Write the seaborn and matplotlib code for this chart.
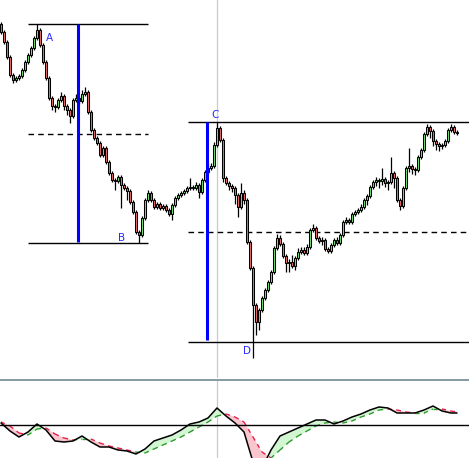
import numpy as np
import seaborn as sns
import matplotlib.pyplot as plt
from matplotlib.collections import LineCollection

# price bars (one per session)
opens = [376, 368, 358, 343, 325, 320, 322, 324, 330, 338,
         345, 352, 362, 370, 355, 338, 322, 302, 294, 293,
         300, 304, 294, 290, 284, 300, 302, 299, 306, 308,
         288, 270, 262, 257, 245, 252, 238, 227, 220, 219,
         223, 215, 212, 209, 198, 188, 168, 165, 182, 200,
         207, 200, 193, 196, 192, 194, 190, 186, 195, 202,
         205, 207, 209, 212, 213, 212, 215, 208, 220, 228,
         232, 234, 255, 272, 260, 222, 217, 214, 212, 205,
         193, 207, 200, 158, 132, 95, 78, 90, 102, 110,
         118, 128, 152, 162, 156, 144, 137, 138, 134, 142,
         148, 150, 147, 153, 170, 172, 162, 159, 160, 151,
         149, 155, 160, 157, 165, 178, 180, 178, 186, 188,
         190, 193, 200, 204, 213, 218, 220, 219, 221, 217,
         218, 227, 222, 200, 194, 212, 232, 234, 231, 230,
         243, 250, 266, 273, 269, 259, 256, 254, 255, 259,
         270, 273, 268]
closes = [368, 358, 343, 325, 320, 322, 324, 330, 338, 345,
          352, 362, 370, 355, 338, 322, 302, 294, 293, 300,
          304, 294, 290, 284, 300, 302, 299, 306, 308, 288,
          270, 262, 257, 245, 252, 238, 227, 220, 219, 223,
          215, 212, 209, 198, 188, 168, 165, 182, 200, 207,
          200, 193, 196, 192, 194, 190, 186, 195, 202, 205,
          207, 209, 212, 213, 212, 215, 208, 220, 228, 232,
          234, 255, 272, 260, 222, 217, 214, 212, 205, 193,
          207, 200, 158, 132, 95, 78, 90, 102, 110, 118,
          128, 152, 162, 156, 144, 137, 138, 134, 142, 148,
          150, 147, 153, 170, 172, 162, 159, 160, 151, 149,
          155, 160, 157, 165, 178, 180, 178, 186, 188, 190,
          193, 200, 204, 213, 218, 220, 219, 221, 217, 218,
          227, 222, 200, 194, 212, 232, 234, 231, 230, 243,
          250, 266, 273, 269, 259, 256, 254, 255, 259, 270,
          273, 268, 267]
highs = [378, 370, 360, 345, 327, 324, 326, 332, 340, 347,
         354, 364, 376, 372, 357, 340, 324, 304, 296, 302,
         308, 306, 296, 292, 302, 306, 304, 310, 313, 310,
         290, 272, 264, 259, 254, 254, 240, 229, 222, 225,
         225, 217, 214, 211, 200, 190, 170, 184, 202, 210,
         209, 202, 198, 198, 196, 196, 192, 197, 204, 207,
         209, 211, 214, 222, 215, 218, 217, 222, 230, 236,
         237, 258, 278, 274, 262, 224, 219, 216, 214, 207,
         217, 210, 202, 160, 134, 97, 92, 104, 112, 120,
         130, 154, 166, 165, 158, 146, 141, 145, 144, 152,
         153, 153, 156, 172, 176, 174, 164, 163, 162, 153,
         157, 162, 163, 167, 180, 183, 182, 188, 190, 192,
         196, 202, 206, 215, 220, 223, 222, 232, 223, 220,
         243, 229, 224, 202, 214, 234, 252, 236, 233, 245,
         252, 268, 276, 275, 271, 261, 258, 257, 261, 272,
         276, 275, 270]
lows = [366, 356, 341, 323, 317, 318, 320, 322, 328, 336,
        343, 350, 360, 353, 336, 320, 300, 290, 288, 291,
        298, 290, 285, 277, 282, 298, 296, 297, 304, 286,
        268, 260, 255, 243, 243, 236, 225, 218, 210, 217,
        192, 210, 200, 196, 186, 166, 157, 163, 180, 198,
        198, 191, 191, 190, 190, 188, 184, 180, 193, 200,
        203, 205, 207, 210, 210, 210, 202, 206, 218, 226,
        230, 232, 253, 258, 218, 215, 210, 208, 196, 183,
        191, 196, 156, 130, 42, 65, 70, 88, 100, 108,
        116, 126, 150, 154, 142, 128, 128, 132, 130, 140,
        146, 145, 145, 151, 168, 160, 157, 155, 149, 147,
        147, 153, 155, 155, 163, 176, 176, 176, 184, 186,
        188, 191, 195, 202, 211, 214, 212, 215, 213, 210,
        216, 212, 198, 190, 192, 210, 228, 226, 225, 228,
        241, 248, 264, 262, 254, 250, 249, 251, 253, 257,
        268, 266, 265]

# oscillator, sampled every third bar
osc_bars = [0, 3, 6, 9, 12, 15, 18, 21, 24, 27, 30, 33, 36, 39, 42, 45, 48,
            51, 54, 57, 60, 63, 66, 69, 72, 75, 78, 81, 84, 87, 90, 93, 96,
            99, 102, 105, 108, 111, 114, 117, 120, 123, 126, 129, 132, 135,
            138, 141, 144, 147, 150, 152]
osc_main = [2, -6, -12, -7, 1, -5, -16, -17, -16, -11, -17, -22, -22, -25, -26,
            -29, -24, -16, -13, -10, -5, 1, 3, 7, 17, 9, 2, -7, -37, -43, -25,
            -11, -7, -3, 1, 5, 5, 1, 4, 8, 11, 15, 18, 17, 12, 12, 12, 15, 19,
            14, 12, 12]
osc_signal = [3, -1, -8, -10, -4, -3, -9, -13, -15, -14, -14, -18, -21, -23,
              -25, -27, -28, -24, -20, -16, -12, -7, -2, 3, 9, 11, 8, 3, -12,
              -27, -33, -25, -17, -11, -6, -1, 2, 3, 2, 4, 8, 11, 15, 16, 15,
              13, 12, 12, 16, 16, 14, 13]

# swing levels: A/B and C/D
ab_levels = (376, 157)
ab_span = (9, 49)
ab_marker = 25.7
cd_levels = (278, 58)
cd_start = 62.3
cd_marker = 68.7
crosshair_bar = 72
labels = {'A': (16, 362), 'B': (40.3, 162), 'C': (71.3, 285), 'D': (82, 49)}

sns.set_theme(style='white')
plt.rcParams['font.family'] = ['DejaVu Sans']

fig = plt.figure(figsize=(4.69, 4.58), dpi=100)
ax = fig.add_axes([0, 80 / 458, 1, 378 / 458])
ax2 = fig.add_axes([0, 0, 1, 78 / 458])

o = np.array(opens)
c = np.array(closes)
bars = np.arange(len(c))
up = c >= o
body_colors = np.where(up, '#72e272', '#ea6a68')

ax.vlines(bars, lows, highs, color='black', lw=0.9, zorder=2)
ax.bar(bars, np.maximum(np.abs(c - o), 0.8), bottom=np.minimum(o, c), width=0.92,
       color=body_colors, edgecolor='black', linewidth=0.75, zorder=3)

xmax = 156
# A/B box
ax.hlines(list(ab_levels), *ab_span, color='black', lw=1.0, zorder=1)
ax.hlines(sum(ab_levels) / 2, *ab_span, color='black', lw=1.0,
          linestyles=(0, (4, 3)), zorder=1)
ax.vlines(ab_marker, ab_levels[1] + 1, ab_levels[0], color='#0000ff', lw=2.2, zorder=4)
# C/D box
ax.hlines(list(cd_levels), cd_start, xmax, color='black', lw=1.0, zorder=1)
ax.hlines(sum(cd_levels) / 2, cd_start, xmax, color='black', lw=1.0,
          linestyles=(0, (4, 3)), zorder=1)
ax.vlines(cd_marker, cd_levels[1] + 2, cd_levels[0], color='#0000ff', lw=2.2, zorder=4)

for name, (bx, py) in labels.items():
    ax.text(bx, py, name, color='#2a2aff', fontsize=7.5, ha='center', va='center')

ax.axvline(crosshair_bar, color='#c8c8d6', lw=0.9, zorder=0)
ax.set_xlim(-1 / 3, xmax)
ax.set_ylim(22, 400)
ax.axis('off')

# oscillator panel
xb = np.array(osc_bars)
m = np.array(osc_main, dtype=float)
s = np.array(osc_signal, dtype=float)
ax2.fill_between(xb, m, s, where=m >= s, interpolate=True, color='#d2f5d2', lw=0, zorder=1)
ax2.fill_between(xb, m, s, where=m < s, interpolate=True, color='#f8c6cc', lw=0, zorder=1)
segs = [[(xb[i], s[i]), (xb[i + 1], s[i + 1])] for i in range(len(xb) - 1)]
seg_cols = ['#e8204c' if (s[i] + s[i + 1]) > (m[i] + m[i + 1]) else '#2a9a2a'
            for i in range(len(xb) - 1)]
ax2.add_collection(LineCollection(segs, colors=seg_cols, linewidths=1.0,
                                  linestyles=(0, (3, 3)), zorder=2))
sns.lineplot(x=xb, y=m, ax=ax2, color='black', lw=1.1, zorder=3)
ax2.axhline(0, color='black', lw=1.0, zorder=2)
ax2.axvline(crosshair_bar, color='#c8c8d6', lw=0.9, zorder=0)
ax2.set_xlim(-1 / 3, xmax)
ax2.set_ylim(-33, 45)
ax2.set_xticks([])
ax2.set_yticks([])
ax2.set_xlabel('')
ax2.set_ylabel('')
for side in ['left', 'right', 'bottom']:
    ax2.spines[side].set_visible(False)
ax2.spines['top'].set_color('#6f8a94')
ax2.spines['top'].set_linewidth(1.2)

fig.savefig('out.png', dpi=100)
